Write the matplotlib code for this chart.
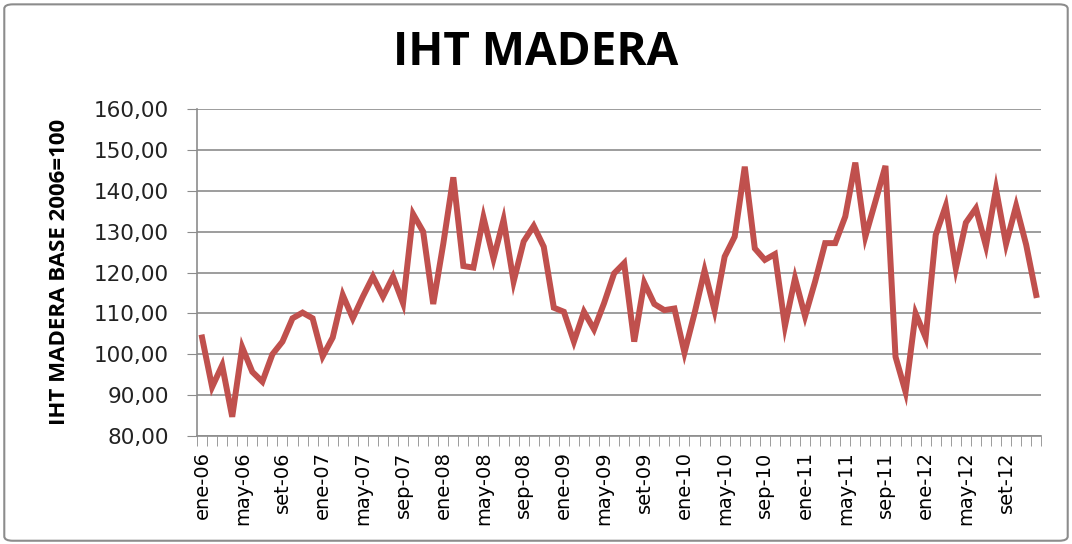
import numpy as np
import matplotlib.pyplot as plt
from matplotlib.patches import FancyBboxPatch
from matplotlib.ticker import FuncFormatter

# meses: ene-06 ... dic-12
meses = ["ene", "feb", "mar", "abr", "may", "jun", "jul", "ago", "set", "oct", "nov", "dic"]
anios = ["06", "07", "08", "09", "10", "11", "12"]
categorias = [m + "-" + a for a in anios for m in meses]
# etiquetas del eje x (una cada 4 meses)
etiquetas = ["ene-06", "may-06", "set-06", "ene-07", "may-07", "sep-07", "ene-08",
             "may-08", "sep-08", "ene-09", "may-09", "set-09", "ene-10", "may-10",
             "sep-10", "ene-11", "may-11", "sep-11", "ene-12", "may-12", "set-12"]

# valores IHT madera (base 2006=100)
iht = [104.1, 92.0, 97.3, 84.7, 101.7, 95.7, 93.3, 100.0, 103.1, 108.8, 110.2, 108.8,
       99.5, 104.1, 114.5, 108.8, 114.1, 119.0, 114.1, 119.0, 112.5, 134.3, 130.0, 112.3,
       127.0, 143.3, 121.6, 121.2, 133.5, 123.4, 132.9, 117.8, 127.6, 131.4, 126.3, 111.4,
       110.4, 103.1, 110.4, 106.1, 112.5, 119.8, 122.3, 103.1, 117.5, 112.3, 110.8, 111.2,
       100.4, 110.0, 120.5, 110.7, 123.9, 128.8, 145.9, 125.9, 123.1, 124.5, 106.9, 118.6,
       109.3, 117.8, 127.2, 127.2, 133.7, 146.9, 128.8, 137.4, 146.1, 99.4, 90.8, 110.0,
       104.1, 129.2, 136.3, 121.0, 132.2, 135.7, 126.5, 140.4, 127.0, 136.3, 126.8, 114.5]

fig = plt.figure(figsize=(10.72, 5.44), dpi=100)
borde = FancyBboxPatch((0.004, 0.006), 0.992, 0.986, boxstyle="round,pad=0,rounding_size=0.008",
                       transform=fig.transFigure, facecolor="white",
                       edgecolor="#8c8c8c", linewidth=1.5, zorder=-1)
fig.patches.append(borde)

ax = fig.add_axes([0.1838, 0.1985, 0.7875, 0.601])
ax.patch.set_alpha(0)
x = np.arange(len(iht))
ax.plot(x, iht, color="#C0504D", linewidth=4.3, solid_joinstyle="miter")

ax.set_xlim(-0.5, len(iht) - 0.5)
ax.set_ylim(80, 160)
ax.set_yticks(np.arange(80, 161, 10))
ax.yaxis.set_major_formatter(FuncFormatter(lambda v, p: f"{v:.2f}".replace(".", ",")))
ax.grid(axis="y", color="#8c8c8c", linewidth=1.2)
ax.set_axisbelow(True)

ax.set_xticks(x[::4])
ax.set_xticklabels(etiquetas, rotation=90, fontsize=14, family="DejaVu Sans")
ax.set_xticks(np.arange(-0.5, len(iht), 1), minor=True)
ax.tick_params(axis="x", which="major", length=0, pad=11)
ax.tick_params(axis="x", which="minor", length=7, color="#8c8c8c", direction="out")
ax.tick_params(axis="y", length=7.2, color="#8c8c8c", labelsize=15.5, pad=13)
for lab in ax.get_yticklabels():
    lab.set_family("DejaVu Sans")
    lab.set_color("#222222")

for s in ["top", "right"]:
    ax.spines[s].set_visible(False)
for s in ["left", "bottom"]:
    ax.spines[s].set_color("#8c8c8c")
    ax.spines[s].set_linewidth(1.2)

fig.text(60 / 1072, 1 - 272 / 544, "IHT MADERA BASE 2006=100", rotation=90, ha="center", va="center",
         fontsize=16, fontweight="bold", family="Open Sans")
fig.text(0.5, 0.903, "IHT MADERA", ha="center", va="center", fontsize=33, fontweight="bold", family="Open Sans")

fig.savefig("out.png", dpi=100)
